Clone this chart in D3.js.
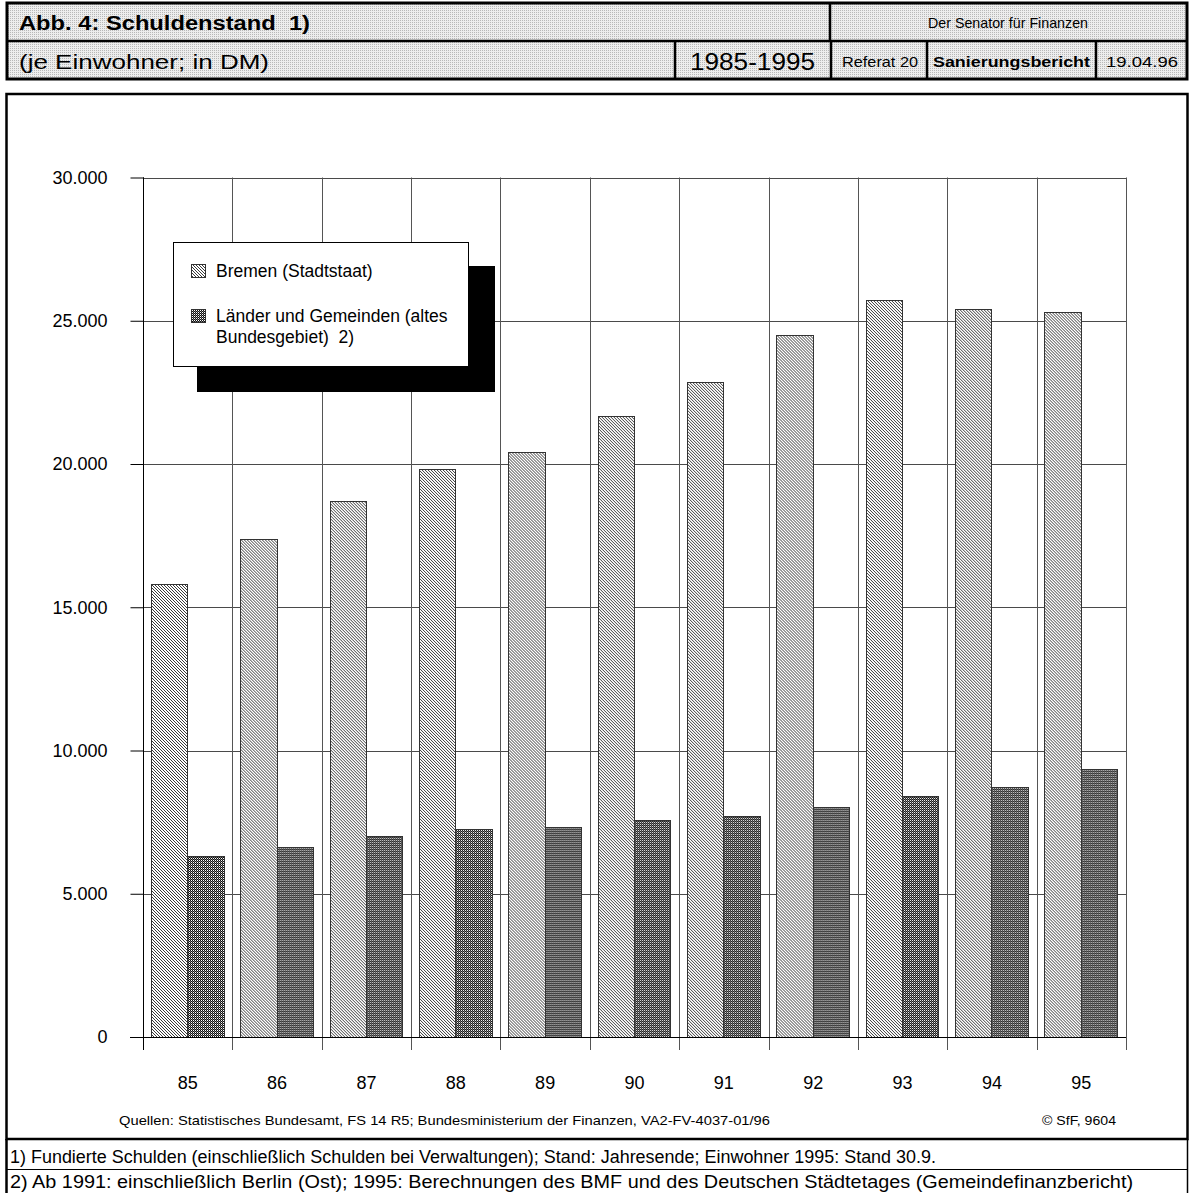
<!DOCTYPE html>
<html>
<head>
<meta charset="utf-8">
<script src="https://cdn.jsdelivr.net/npm/d3@7/dist/d3.min.js"></script>
<style>
  html, body { margin: 0; padding: 0; background: #fff; }
  svg { display: block; font-family: "Liberation Sans", Arial, sans-serif; }
</style>
</head>
<body>
<svg id="chart" width="1191" height="1193"></svg>
<script>
// Schuldenstand je Einwohner in DM, 1985-1995
const years = ["85", "86", "87", "88", "89", "90", "91", "92", "93", "94", "95"];
const seriesNames = ["Bremen (Stadtstaat)", "Länder und Gemeinden (altes Bundesgebiet)  2)"];
const bremen = [15800, 17350, 18700, 19800, 20400, 21650, 22850, 24500, 25700, 25400, 25300];
const laender = [6300, 6600, 7000, 7250, 7300, 7550, 7700, 8000, 8400, 8700, 9350];
const yTicks = [0, 5000, 10000, 15000, 20000, 25000, 30000];

const de = d3.formatLocale({ decimal: ",", thousands: ".", grouping: [3], currency: ["", " DM"] });
const fmt = de.format(",");

const svg = d3.select("#chart");
const defs = svg.append("defs");

// fine stipple for the header cells
const stip = defs.append("pattern").attr("id", "stipple")
  .attr("patternUnits", "userSpaceOnUse").attr("width", 2).attr("height", 2);
stip.append("rect").attr("width", 2).attr("height", 2).attr("fill", "#ededed");
stip.append("rect").attr("width", 1).attr("height", 1).attr("fill", "#b8b8b8");

// light diagonal hatch (Bremen)
const hatch = defs.append("pattern").attr("id", "hatchLight")
  .attr("patternUnits", "userSpaceOnUse").attr("width", 3).attr("height", 3);
hatch.append("rect").attr("width", 3).attr("height", 3).attr("fill", "#ffffff");
[0, 1, 2].forEach(i => hatch.append("rect").attr("x", i).attr("y", i)
  .attr("width", 1).attr("height", 1).attr("fill", "#3a3a3a"));

// dark dotted raster (Länder und Gemeinden)
const dots = defs.append("pattern").attr("id", "dotsDark")
  .attr("patternUnits", "userSpaceOnUse").attr("width", 2).attr("height", 2);
dots.append("rect").attr("width", 2).attr("height", 2).attr("fill", "#111");
dots.append("rect").attr("width", 1).attr("height", 1).attr("fill", "#ffffff");
dots.append("rect").attr("x", 1).attr("y", 1).attr("width", 1).attr("height", 1).attr("fill", "#777");

const fills = ["url(#hatchLight)", "url(#dotsDark)"];

// text helper: optional fixed advance width for the wide printer face
function label(parent, o) {
  const t = parent.append("text").attr("x", o.x).attr("y", o.y).attr("font-size", o.size)
    .attr("xml:space", "preserve").text(o.text);
  if (o.anchor) t.attr("text-anchor", o.anchor);
  if (o.bold) t.attr("font-weight", "bold");
  if (o.len) t.attr("textLength", o.len).attr("lengthAdjust", "spacingAndGlyphs");
  return t;
}

/* ---------- header block ---------- */
const H = { x0: 7, x1: 1187, y0: 3, ym: 41, y1: 79 };
const head = svg.append("g");
head.append("rect").attr("x", H.x0).attr("y", H.y0)
  .attr("width", H.x1 - H.x0).attr("height", H.y1 - H.y0)
  .attr("fill", "url(#stipple)").attr("stroke", "#000").attr("stroke-width", 3);
head.append("line").attr("x1", H.x0).attr("x2", H.x1).attr("y1", H.ym).attr("y2", H.ym)
  .attr("stroke", "#000").attr("stroke-width", 2.5);
head.append("line").attr("x1", 830).attr("x2", 830).attr("y1", H.y0).attr("y2", H.ym)
  .attr("stroke", "#000").attr("stroke-width", 2.5);
[675, 831, 927, 1096].forEach(x => head.append("line")
  .attr("x1", x).attr("x2", x).attr("y1", H.ym).attr("y2", H.y1)
  .attr("stroke", "#000").attr("stroke-width", 2.5));

label(head, { x: 19, y: 30, size: 20, bold: true, text: "Abb. 4: Schuldenstand  1)", len: 291 });
label(head, { x: 928, y: 28, size: 15, text: "Der Senator für Finanzen", len: 160 });
label(head, { x: 19, y: 69, size: 21, text: "(je Einwohner; in DM)", len: 250 });
label(head, { x: 690, y: 70, size: 23, text: "1985-1995", len: 125 });
label(head, { x: 842, y: 67, size: 15, text: "Referat 20", len: 76 });
label(head, { x: 933, y: 67, size: 15.5, bold: true, text: "Sanierungsbericht", len: 157 });
label(head, { x: 1106, y: 67, size: 15.5, text: "19.04.96", len: 72 });

/* ---------- chart frame and footnotes ---------- */
svg.append("rect").attr("x", 6.5).attr("y", 94).attr("width", 1181).attr("height", 1045)
  .attr("fill", "none").attr("stroke", "#000").attr("stroke-width", 2.5);
svg.append("line").attr("x1", 6.5).attr("x2", 6.5).attr("y1", 1139).attr("y2", 1193)
  .attr("stroke", "#000").attr("stroke-width", 2.5);
svg.append("line").attr("x1", 1187.5).attr("x2", 1187.5).attr("y1", 1139).attr("y2", 1193)
  .attr("stroke", "#000").attr("stroke-width", 1.5);
svg.append("line").attr("x1", 6.5).attr("x2", 1187.5).attr("y1", 1169.5).attr("y2", 1169.5)
  .attr("stroke", "#000").attr("stroke-width", 1);

/* ---------- scales ---------- */
const plot = { left: 143, right: 1126, top: 177.5, bottom: 1037 };
const x = d3.scaleBand().domain(years).range([plot.left, plot.right]).paddingInner(0).paddingOuter(0);
const xs = d3.scaleBand().domain([0, 1]).range([0, x.bandwidth()]).paddingInner(0).paddingOuter(0.2275);
const y = d3.scaleLinear().domain([0, 30000]).range([plot.bottom, plot.top]);

const g = svg.append("g");

// horizontal grid
g.append("g").selectAll("line").data(yTicks).join("line")
  .attr("x1", plot.left).attr("x2", plot.right)
  .attr("y1", d => Math.round(y(d)) + 0.5).attr("y2", d => Math.round(y(d)) + 0.5)
  .attr("stroke", "#4a4a4a").attr("stroke-width", 1);

// vertical grid at category boundaries, with ticks below the baseline
const bounds = years.map(d => x(d)).concat([plot.right]);
g.append("g").selectAll("line").data(bounds).join("line")
  .attr("x1", d => Math.round(d) + 0.5).attr("x2", d => Math.round(d) + 0.5)
  .attr("y1", plot.top).attr("y2", plot.bottom + 13)
  .attr("stroke", (d, i) => i === 0 ? "#000" : "#555").attr("stroke-width", 1);

// y axis
const yAxis = d3.axisLeft(y).tickValues(yTicks).tickSize(13).tickPadding(23).tickFormat(fmt);
const ya = g.append("g").attr("transform", `translate(${plot.left + 0.5},0)`).call(yAxis);
ya.select(".domain").remove();
ya.selectAll(".tick line").attr("stroke", "#000");
ya.selectAll(".tick text").attr("font-size", 18).attr("fill", "#000")
  .attr("font-family", "Liberation Sans, Arial, sans-serif");
g.append("line").attr("x1", plot.left + 0.5).attr("x2", plot.left + 0.5)
  .attr("y1", plot.top).attr("y2", plot.bottom).attr("stroke", "#000");

// x axis labels
const xAxis = d3.axisBottom(x).tickSize(0).tickPadding(39);
const xa = g.append("g").attr("transform", `translate(0,${plot.bottom})`).call(xAxis);
xa.select(".domain").remove();
xa.selectAll(".tick text").attr("font-size", 18).attr("fill", "#000")
  .attr("font-family", "Liberation Sans, Arial, sans-serif");

// bars
const data = years.map((yr, i) => ({ yr, vals: [bremen[i], laender[i]] }));
const groups = g.append("g").selectAll("g").data(data).join("g")
  .attr("transform", d => `translate(${x(d.yr)},0)`);
groups.selectAll("rect").data(d => d.vals.map((v, k) => ({ v, k }))).join("rect")
  .attr("x", d => xs(d.k))
  .attr("y", d => y(d.v))
  .attr("width", xs.bandwidth())
  .attr("height", d => y(0) - y(d.v))
  .attr("fill", d => fills[d.k])
  .attr("stroke", "#333").attr("stroke-width", 1)
  .attr("shape-rendering", "crispEdges");

// baseline
g.append("line").attr("x1", plot.left - 13).attr("x2", plot.right)
  .attr("y1", Math.round(plot.bottom) + 0.5).attr("y2", Math.round(plot.bottom) + 0.5)
  .attr("stroke", "#000");

/* ---------- legend ---------- */
const lg = svg.append("g");
lg.append("rect").attr("x", 197).attr("y", 266).attr("width", 298).attr("height", 126).attr("fill", "#000");
lg.append("rect").attr("x", 173.5).attr("y", 242.5).attr("width", 295).attr("height", 124)
  .attr("fill", "#fff").attr("stroke", "#000").attr("stroke-width", 1);
const legendRows = [
  { lines: [seriesNames[0]], y: 277 },
  { lines: ["Länder und Gemeinden (altes", "Bundesgebiet)  2)"], y: 322 }
];
legendRows.forEach((r, k) => {
  lg.append("rect").attr("x", 191).attr("y", r.y - 13).attr("width", 14).attr("height", 13)
    .attr("fill", fills[k]).attr("stroke", "#333").attr("stroke-width", 1).attr("shape-rendering", "crispEdges");
  const t = lg.append("text").attr("x", 216).attr("y", r.y).attr("font-size", 17.5).attr("xml:space", "preserve");
  r.lines.forEach((ln, j) => t.append("tspan").attr("x", 216).attr("dy", j === 0 ? 0 : 21).text(ln));
});

/* ---------- sources and footnotes ---------- */
label(svg, { x: 119, y: 1125, size: 13, len: 651,
  text: "Quellen: Statistisches Bundesamt, FS 14 R5; Bundesministerium der Finanzen, VA2-FV-4037-01/96" });
label(svg, { x: 1042, y: 1125, size: 13, len: 74, text: "© SfF, 9604" });
label(svg, { x: 10, y: 1163, size: 17.5, len: 926,
  text: "1) Fundierte Schulden (einschließlich Schulden bei Verwaltungen); Stand: Jahresende; Einwohner 1995: Stand 30.9." });
label(svg, { x: 10, y: 1188, size: 17.5, len: 1123,
  text: "2) Ab 1991: einschließlich Berlin (Ost); 1995: Berechnungen des BMF und des Deutschen Städtetages (Gemeindefinanzbericht)" });
</script>
</body>
</html>
